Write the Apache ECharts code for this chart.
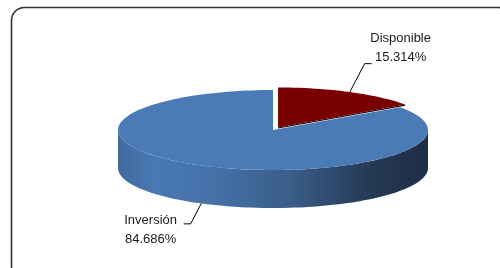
<!DOCTYPE html>
<html>
<head>
    <meta charset="UTF-8">
    <title>Disponible / Inversión</title>
    <script src="https://cdn.jsdelivr.net/npm/echarts@6/dist/echarts.min.js"></script>
    <style>
        html, body { margin: 0; padding: 0; background: #fff; }
        #chart { width: 500px; height: 268px; }
    </style>
</head>
<body>
    <div id="chart"></div>
    <script>
        // datos
        const names = ['Disponible', 'Inversión'];
        const values = [15.314, 84.686];
        const topColors = ['#7a0000', '#4a7bb7'];
        const explode = [11, 0];

        // geometría de la torta 3D
        const CX = 273, CY = 130, RX = 155, RY = 40, DEPTH = 38;
        const total = values.reduce((a, b) => a + b, 0);
        const starts = [];
        values.reduce((acc, v, i) => { starts[i] = acc; return acc + v; }, 0);

        const chart = echarts.init(document.getElementById('chart'));

        // punto sobre la elipse, ángulo en grados desde las 12 en sentido horario
        function rim(deg, dx, dy) {
            const r = deg * Math.PI / 180;
            return [CX + RX * Math.sin(r) + dx, CY - RY * Math.cos(r) + dy];
        }

        function arc(a0, a1, dx, dy) {
            const pts = [];
            const n = Math.max(2, Math.ceil(Math.abs(a1 - a0) / 2));
            for (let k = 0; k <= n; k++) pts.push(rim(a0 + (a1 - a0) * k / n, dx, dy));
            return pts;
        }

        function renderItem(params, api) {
            const i = params.dataIndex;
            const a0 = api.value(1) / total * 360;
            const a1 = (api.value(1) + api.value(0)) / total * 360;
            const mid = (a0 + a1) / 2;
            const mr = mid * Math.PI / 180;
            const ex = explode[i] * Math.sin(mr);
            const ey = -explode[i] * Math.cos(mr) * RY / RX;
            const children = [];

            // cara lateral visible (mitad delantera)
            const s0 = Math.max(a0, 90), s1 = Math.min(a1, 270);
            if (s1 > s0) {
                const top = arc(s0, s1, ex, ey);
                const bottom = arc(s1, s0, ex, ey + DEPTH);
                children.push({
                    type: 'polygon',
                    z2: 1,
                    shape: { points: top.concat(bottom) },
                    style: {
                        fill: new echarts.graphic.LinearGradient(CX - RX, 0, CX + RX, 0, [
                            { offset: 0, color: '#3f6a9e' },
                            { offset: 0.12, color: '#4a79b2' },
                            { offset: 0.3, color: '#4572a9' },
                            { offset: 0.55, color: '#3a5e89' },
                            { offset: 0.8, color: '#263b57' },
                            { offset: 1, color: '#1e2e44' }
                        ], true)
                    }
                });
            }

            // cara superior
            const center = [CX + ex, CY + ey];
            const face = [center].concat(arc(a0, a1, ex, ey));
            children.push({
                type: 'polygon',
                z2: 10,
                shape: { points: face },
                style: { fill: topColors[i] }
            });
            if (a1 < 90) {
                // borde oscuro del corte trasero
                children.push({
                    type: 'line',
                    z2: 11,
                    shape: { x1: center[0], y1: center[1] + 0.5, x2: rim(a1, ex, ey)[0], y2: rim(a1, ex, ey)[1] + 0.5 },
                    style: { stroke: '#2a0000', lineWidth: 1.2 }
                });
            }

            // etiqueta con línea guía
            const front = Math.cos(mr) < 0;
            const anchor = rim(mid, ex, ey + (front ? DEPTH : 0));
            const dirX = Math.sin(mr), dirY = -Math.cos(mr);
            const len = front ? 23 : 32;
            const elbow = [anchor[0] + dirX * len, anchor[1] + dirY * len];
            const side = dirX >= 0 ? 1 : -1;
            const end = [elbow[0] + side * 7, elbow[1]];
            children.push({
                type: 'polyline',
                z2: 20,
                shape: { points: [anchor, elbow, end] },
                style: { stroke: '#000', lineWidth: 1, fill: null }
            });
            children.push({
                type: 'text',
                z2: 20,
                style: {
                    x: end[0] + side * (front ? 33 : 29),
                    y: elbow[1] + (front ? 6 : -16),
                    text: names[i] + '\n' + api.value(0).toFixed(3) + '%',
                    align: 'center',
                    verticalAlign: 'middle',
                    lineHeight: 19,
                    font: '13px "Liberation Sans", Arial, sans-serif',
                    fill: '#1a1a1a'
                }
            });

            return { type: 'group', children: children };
        }

        const option = {
            animation: false,
            graphic: [{
                type: 'rect',
                shape: { x: 11.5, y: 7.5, width: 500, height: 272, r: 13 },
                style: { fill: null, stroke: '#333', lineWidth: 1.6 },
                silent: true
            }],
            series: [{
                type: 'custom',
                coordinateSystem: 'none',
                renderItem: renderItem,
                data: values.map((v, i) => [v, starts[i]])
            }]
        };

        chart.setOption(option);
    </script>
</body>
</html>
